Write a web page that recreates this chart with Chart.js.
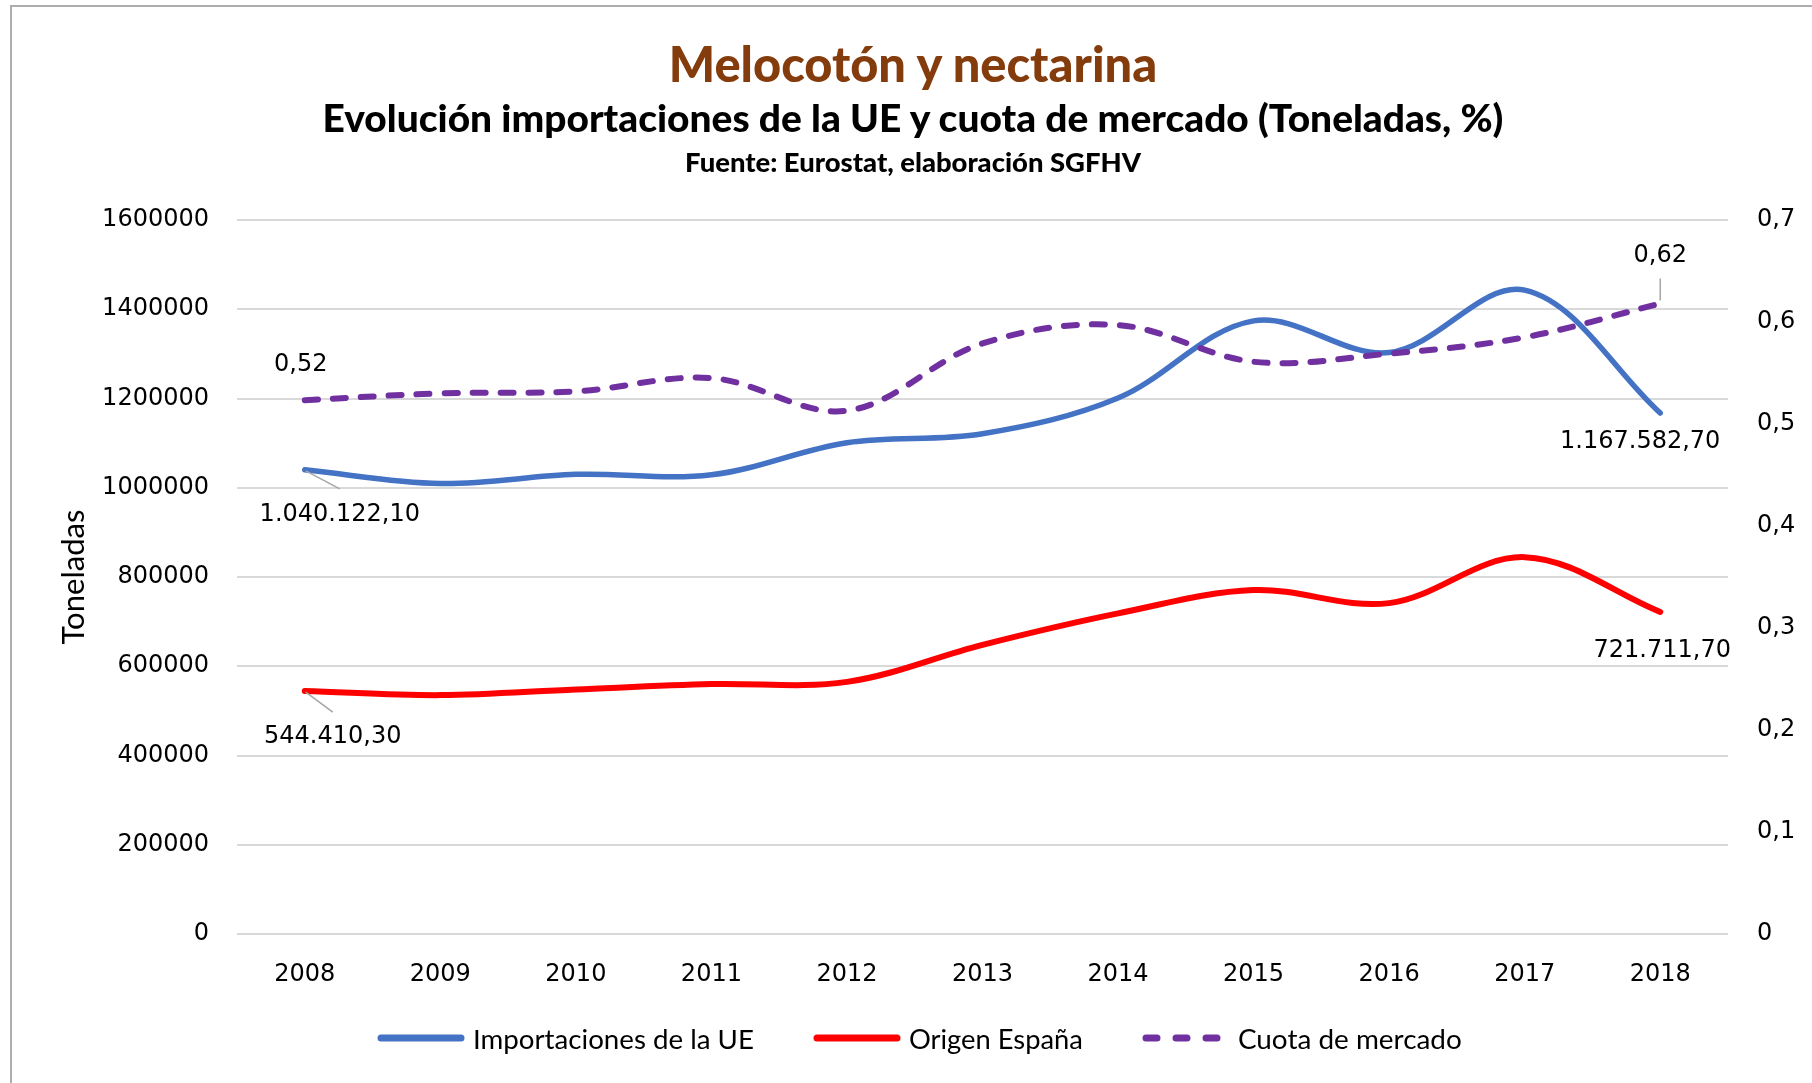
<!DOCTYPE html>
<html>
<head>
<meta charset="utf-8">
<script src="https://cdn.jsdelivr.net/npm/chart.js@4.4.0/dist/chart.umd.min.js"></script>
<style>
html,body{margin:0;padding:0;background:#fff;width:1812px;height:1083px;overflow:hidden;}
#wrap{position:relative;width:1812px;height:1083px;overflow:hidden;}
#frame{position:absolute;left:10px;top:5px;width:1830px;height:1120px;border:2.5px solid #ADADAD;box-sizing:border-box;}
canvas{position:absolute;left:0;top:0;}
.t{position:absolute;left:0;width:1826px;text-align:center;font-family:Lato;font-weight:900;white-space:nowrap;line-height:1;}
#legend{position:absolute;left:377px;top:1020px;height:36px;display:flex;align-items:center;font-family:Lato;white-space:nowrap;}
.li{display:flex;align-items:center;}
.li svg{display:block;}
</style>
</head>
<body>
<div id="wrap">
  <canvas id="c" width="1812" height="1083"></canvas>
  <div id="frame"></div>
  <div class="t" id="t1" style="color:#843C0C">Melocotón y nectarina</div>
  <div class="t" id="t2" style="color:#000">Evolución importaciones de la UE y cuota de mercado (Toneladas, %)</div>
  <div class="t" id="t3" style="color:#000">Fuente: Eurostat, elaboración SGFHV</div>
  <div id="legend"></div>
</div>
<script>
// ---- data ----
const years = ['2008','2009','2010','2011','2012','2013','2014','2015','2016','2017','2018'];
const importacionesUE = [1040122.10, 1009500, 1030000, 1029000, 1101000, 1121000, 1201000, 1374000, 1303000, 1443000, 1167582.70];
const origenEspana = [544410.30, 535300, 548000, 560000, 565000, 648000, 718500, 770800, 741500, 844500, 721711.70];
const cuotaMercado = [0.5234, 0.530, 0.532, 0.545, 0.513, 0.579, 0.597, 0.561, 0.569, 0.585, 0.6181];
const seriesNames = ['Importaciones de la UE', 'Origen España', 'Cuota de mercado'];
const seriesColors = ['#4472C4', '#FF0000', '#7030A0'];
const leftMax = 1600000, leftStep = 200000;
const rightMax = 0.7, rightStep = 0.1;
const axisTitle = 'Toneladas';

// ---- helpers ----
const mctx = document.createElement('canvas').getContext('2d');
function fitSize(text, weight, family, target){
  mctx.font = weight + ' 100px ' + family;
  return 100 * target / mctx.measureText(text).width;
}
function fmtEs(v){
  const parts = v.toFixed(2).split('.');
  return parts[0].replace(/\B(?=(\d{3})+(?!\d))/g, '.') + ',' + parts[1];
}

// ---- titles ----
const titles = [['t1', 491, 66], ['t2', 1183, 120], ['t3', 456, 163]];
titles.forEach(([id, w, cy]) => {
  const el = document.getElementById(id);
  const s = fitSize(el.textContent, '900', 'Lato', w);
  el.style.fontSize = s + 'px';
  el.style.top = (cy - 0.56 * s) + 'px';
});

// ---- legend ----
const legendTextW = [281, 174, 224];
const legend = document.getElementById('legend');
seriesNames.forEach((name, k) => {
  const item = document.createElement('div');
  item.className = 'li';
  item.style.marginRight = (k < 2 ? 59 : 0) + 'px';
  const dash = k === 2 ? 'stroke-dasharray="11 19"' : '';
  item.innerHTML = '<svg width="88" height="12"><line x1="4" y1="6" x2="84" y2="6" stroke="' + seriesColors[k] +
    '" stroke-width="7" stroke-linecap="round" ' + dash + '/></svg>';
  const sp = document.createElement('span');
  sp.textContent = name;
  sp.style.marginLeft = '8px';
  sp.style.fontSize = fitSize(name, '400', 'Lato', legendTextW[k]) + 'px';
  sp.style.color = '#000';
  item.appendChild(sp);
  legend.appendChild(item);
});

// ---- data labels plugin ----
const labelPlugin = {
  id: 'pointLabels',
  afterDatasetsDraw(chart){
    const ctx = chart.ctx;
    const specs = [
      {name:seriesNames[0], i:0, dx:35, dy:45, lead:[1,1,35,19]},
      {name:seriesNames[1], i:0, dx:28, dy:46, lead:[1,1,28,21]},
      {name:seriesNames[2], i:0, dx:-4, dy:-35},
      {name:seriesNames[0], i:10, dx:-20, dy:29},
      {name:seriesNames[1], i:10, dx:2, dy:39},
      {name:seriesNames[2], i:10, dx:0, dy:-48, lead:[0,-3,0,-25]}
    ];
    ctx.save();
    ctx.font = '24px "DejaVu Sans"';
    ctx.textAlign = 'center';
    ctx.textBaseline = 'middle';
    specs.forEach(s => {
      const ds = chart.data.datasets.find(d => d.label === s.name);
      const ys = chart.scales[ds.yAxisID];
      const px = chart.scales.x.getPixelForValue(s.i);
      const py = ys.getPixelForValue(ds.data[s.i]);
      if (s.lead){
        ctx.strokeStyle = '#A6A6A6';
        ctx.lineWidth = 1.5;
        ctx.beginPath();
        ctx.moveTo(px + s.lead[0], py + s.lead[1]);
        ctx.lineTo(px + s.lead[2], py + s.lead[3]);
        ctx.stroke();
      }
      ctx.fillStyle = '#000';
      ctx.fillText(fmtEs(ds.data[s.i]), px + s.dx, py + s.dy);
    });
    ctx.restore();
  }
};

const tickFont = {family: 'DejaVu Sans', size: 24};
const ttlSize = fitSize(axisTitle, '400', 'Lato', 135);

new Chart(document.getElementById('c'), {
  type: 'line',
  data: {
    labels: years,
    datasets: [
      {label: seriesNames[2], data: cuotaMercado, yAxisID: 'y1', borderColor: seriesColors[2], borderWidth: 6,
       borderDash: [13, 15], borderCapStyle: 'round', tension: 0.35, pointRadius: 0, fill: false, order: 0},
      {label: seriesNames[0], data: importacionesUE, yAxisID: 'y', borderColor: seriesColors[0], borderWidth: 5.5,
       borderCapStyle: 'round', borderJoinStyle: 'round', tension: 0.35, pointRadius: 0, fill: false, order: 1},
      {label: seriesNames[1], data: origenEspana, yAxisID: 'y', borderColor: seriesColors[1], borderWidth: 6,
       borderCapStyle: 'round', borderJoinStyle: 'round', tension: 0.35, pointRadius: 0, fill: false, order: 2}
    ]
  },
  options: {
    responsive: false,
    animation: false,
    devicePixelRatio: 1,
    layout: {padding: {top: 220, bottom: 89, left: 0, right: 0}},
    plugins: {legend: {display: false}, tooltip: {enabled: false}, title: {display: false}},
    scales: {
      x: {
        type: 'category', offset: true,
        grid: {display: false, drawTicks: false}, border: {display: false},
        ticks: {font: tickFont, color: '#000', padding: 26, maxRotation: 0, autoSkip: false},
        afterFit(s){ s.height = 60; }
      },
      y: {
        position: 'left', min: 0, max: leftMax,
        ticks: {stepSize: leftStep, font: tickFont, color: '#000', padding: 28, callback: v => String(v)},
        grid: {color: '#D9D9D9', lineWidth: 2, drawTicks: false}, border: {display: false},
        title: {display: true, text: axisTitle, color: '#000', font: {family: 'Lato', size: ttlSize}, padding: {top: 74 - ttlSize * 0.6, bottom: 0}},
        afterFit(s){ s.width = 237; }
      },
      y1: {
        position: 'right', min: 0, max: rightMax,
        ticks: {stepSize: rightStep, font: tickFont, color: '#000', padding: 29,
                callback: v => v === 0 ? '0' : v.toFixed(1).replace('.', ',')},
        grid: {display: false, drawTicks: false}, border: {display: false},
        afterFit(s){ s.width = 84; }
      }
    }
  },
  plugins: [labelPlugin]
});
</script>
</body>
</html>
